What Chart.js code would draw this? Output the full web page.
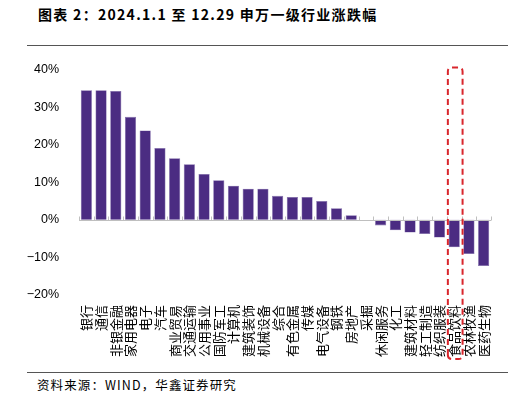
<!DOCTYPE html>
<html>
<head>
<meta charset="utf-8">
<script src="https://cdn.jsdelivr.net/npm/chart.js@4.4.1/dist/chart.umd.min.js"></script>
<style>
  html, body { margin: 0; padding: 0; background: #fff; }
  body { width: 514px; height: 398px; position: relative; overflow: hidden; }
  #title { position: absolute; left: 38px; top: 4px; font: bold 14px "Noto Sans CJK SC", sans-serif; letter-spacing: 1.3px; color: #000; white-space: nowrap; }
  .rule { position: absolute; left: 27px; width: 481px; height: 0; border-top: 1px solid #555; }
  #source { position: absolute; left: 37px; top: 375px; font: 12.5px "Noto Sans CJK SC", sans-serif; letter-spacing: 1.1px; color: #000; white-space: nowrap; }
  #wrap { position: absolute; left: 0; top: 50px; width: 514px; height: 318px; }
</style>
</head>
<body>
<div id="title">图表 2：2024.1.1 至 12.29 申万一级行业涨跌幅</div>
<div class="rule" style="top:45px"></div>
<div id="wrap"><canvas id="c"></canvas></div>
<div class="rule" style="top:372px"></div>
<div id="source">资料来源：WIND，华鑫证券研究</div>
<script>
// 行业与涨跌幅（%）
const industries = ["银行","通信","非银金融","家用电器","电子","汽车","商业贸易","交通运输","公用事业","国防军工",
  "计算机","建筑装饰","机械设备","综合","有色金属","传媒","电气设备","钢铁","房地产","采掘",
  "休闲服务","化工","建筑材料","轻工制造","纺织服装","食品饮料","农林牧渔","医药生物"];
const changes = [34.5, 34.5, 34.3, 27.4, 23.8, 19.1, 16.4, 14.8, 12.2, 10.5,
  9.1, 8.3, 8.3, 6.4, 6.1, 6.1, 5.0, 3.1, 1.2, 0.05,
  -1.5, -2.8, -3.4, -3.8, -4.7, -7.3, -9.1, -12.3];
const yTicks = [-20, -10, 0, 10, 20, 30, 40];
const highlight = "食品饮料";

const el = (id) => document.getElementById(id);
const fmtPct = (v) => (v < 0 ? "−" : "") + Math.abs(v) + "%";

// 零轴、刻度和红色虚线框
const overlay = {
  id: "overlay",
  afterDatasetsDraw(chart) {
    const { ctx, chartArea, scales: { x, y } } = chart;
    const y0 = Math.round(y.getPixelForValue(0)) + 0.5;
    const step = x.getPixelForValue(1) - x.getPixelForValue(0);
    ctx.save();
    ctx.strokeStyle = "#bfbfbf";
    ctx.lineWidth = 1;
    ctx.beginPath();
    ctx.moveTo(chartArea.left, y0);
    ctx.lineTo(chartArea.right, y0);
    for (let i = 0; i <= industries.length; i++) {
      const px = Math.round(x.getPixelForValue(0) - step / 2 + i * step) + 0.5;
      ctx.moveTo(px, y0);
      ctx.lineTo(px, y0 - 4);
    }
    ctx.stroke();
    ctx.restore();
  },
  afterDraw(chart) {
    const { ctx, scales: { x, y } } = chart;
    const idx = industries.indexOf(highlight);
    const step = x.getPixelForValue(1) - x.getPixelForValue(0);
    const cx = x.getPixelForValue(idx);
    const left = cx - step / 2 + 1, right = cx + step / 2 + 1;
    const top = y.getPixelForValue(40) - 2;
    const bottom = chart.height - 9;
    const r = 4;
    ctx.save();
    ctx.strokeStyle = "#d9262c";
    ctx.lineWidth = 2;
    ctx.setLineDash([6, 4]);
    ctx.beginPath();
    ctx.moveTo(left, bottom - r);
    ctx.lineTo(left, top + r);
    ctx.quadraticCurveTo(left, top, left + r, top);
    ctx.lineTo(right - r, top);
    ctx.quadraticCurveTo(right, top, right, top + r);
    ctx.lineTo(right, bottom - r);
    ctx.quadraticCurveTo(right, bottom, right - r, bottom);
    ctx.lineTo(left + r, bottom);
    ctx.quadraticCurveTo(left, bottom, left, bottom - r);
    ctx.stroke();
    ctx.restore();
  }
};

new Chart(el("c"), {
  type: "bar",
  data: {
    labels: industries,
    datasets: [{
      data: changes,
      backgroundColor: "#4b2c82",
      borderColor: "#7d68a8",
      borderWidth: 0.6,
      barPercentage: 0.76,
      categoryPercentage: 1
    }]
  },
  options: {
    responsive: true,
    maintainAspectRatio: false,
    animation: false,
    layout: { padding: { left: 0, right: 23, top: 18, bottom: 0 } },
    plugins: { legend: { display: false }, tooltip: { enabled: false } },
    scales: {
      x: {
        grid: { display: false },
        border: { display: false },
        ticks: {
          autoSkip: false, minRotation: 90, maxRotation: 90, padding: 2, color: "#000",
          font: { family: "'Noto Sans CJK SC'", size: 13 }
        },
        afterFit: (s) => { s.height = 73; }
      },
      y: {
        min: -20, max: 40,
        grid: { display: false },
        border: { display: false },
        afterBuildTicks: (s) => { s.ticks = yTicks.map(v => ({ value: v })); },
        ticks: {
          padding: 12, color: "#000",
          font: { family: "'Liberation Sans', Arial, sans-serif", size: 12.5 },
          callback: fmtPct
        },
        afterFit: (s) => { s.width = 79; }
      }
    }
  },
  plugins: [overlay]
});
</script>
</body>
</html>
